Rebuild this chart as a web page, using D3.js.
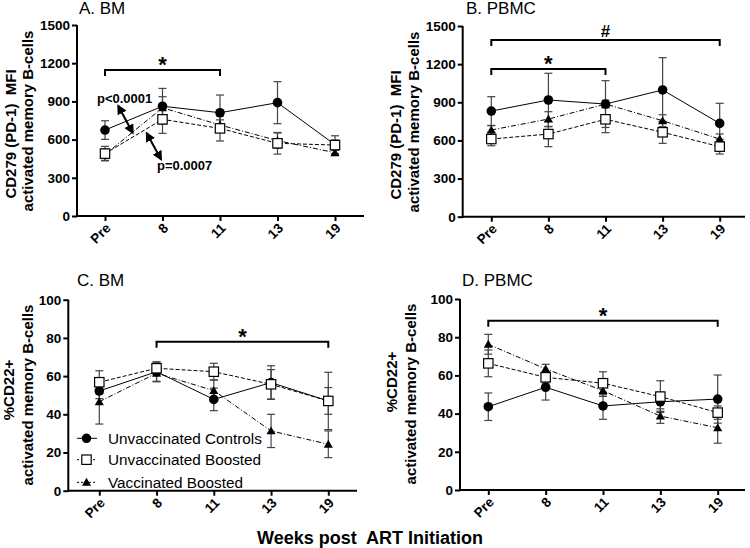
<!DOCTYPE html>
<html><head><meta charset="utf-8">
<script src="https://cdn.jsdelivr.net/npm/d3@7"></script>
<style>
body{margin:0;background:#fff;}
svg{display:block;font-family:"Liberation Sans",Arial,sans-serif;}
</style></head>
<body><svg id="c" width="750" height="548"></svg>
<script>
const categories = ["Pre","8","11","13","19"];
const seriesNames = ["Unvaccinated Controls","Unvaccinated Boosted","Vaccinated Boosted"];

const A_controls = [675, 862, 811, 890, 560];
const A_controlsErr = [73, 140, 139, 165, 70];
const A_unvBoosted = [490, 759, 688, 571, 557];
const A_unvBoostedErr = [57, 110, 99, 85, 40];
const A_vacBoosted = [482, 850, 715, 592, 497];
const A_vacBoostedErr = [45, 87, 40, 60, 20];

const B_controls = [831, 918, 886, 997, 734];
const B_controlsErr = [113, 210, 184, 254, 158];
const B_unvBoosted = [611, 650, 766, 664, 551];
const B_unvBoostedErr = [53, 99, 105, 87, 58];
const B_vacBoosted = [682, 768, 886, 755, 611];
const B_vacBoostedErr = [34, 58, 30, 47, 40];

const C_controls = [52.2, 62.3, 47.8, 56.6, 47];
const C_controlsErr = [4, 5, 5.9, 8.8, 15];
const C_unvBoosted = [56.8, 64.1, 62.3, 55.7, 47];
const C_unvBoostedErr = [6, 3.4, 4.4, 7.7, 7];
const C_vacBoosted = [46.6, 61.5, 52.4, 31.3, 24.3];
const C_vacBoostedErr = [11.7, 4.5, 5.6, 8.7, 7];

const D_controls = [43.6, 53.8, 44, 46.2, 47.6];
const D_controlsErr = [7.2, 6.7, 7, 5, 12.6];
const D_unvBoosted = [66.3, 59, 55.9, 48.9, 40.5];
const D_unvBoostedErr = [7, 3, 6, 8.3, 3.5];
const D_vacBoosted = [76.3, 63.4, 52, 38.7, 32.6];
const D_vacBoostedErr = [5.2, 2.4, 3, 3.8, 8.1];

const ticksPD1 = [0, 300, 600, 900, 1200, 1500];
const ticksCD22 = [0, 20, 40, 60, 80, 100];

const titles = ["A. BM", "B. PBMC", "C. BM", "D. PBMC"];
const yLabel1 = ["CD279 (PD-1)  MFI", "CD279 (PD-1)  MFI", "%CD22+", "%CD22+"];
const yLabel2 = "activated memory B-cells";
const xAxisTitle = "Weeks post  ART Initiation";

const panels = [
  {title: titles[0], l1: yLabel1[0], ticks: ticksPD1, max: 1500,
   series: [[A_controls, A_controlsErr],[A_unvBoosted, A_unvBoostedErr],[A_vacBoosted, A_vacBoostedErr]],
   ax: 77, x0: 105, x1: 335, xe: 364, yb: 216, yt: 25,
   tx: 79, ty: 14, l1x: 16, l1y: 134, l2x: 33, l2y: 121,
   brackets: [{from: "Pre", to: "11", y: 70, sym: "*"}]},
  {title: titles[1], l1: yLabel1[1], ticks: ticksPD1, max: 1500,
   series: [[B_controls, B_controlsErr],[B_unvBoosted, B_unvBoostedErr],[B_vacBoosted, B_vacBoostedErr]],
   ax: 462.7, x0: 491.3, x1: 719.7, xe: 745, yb: 216.7, yt: 26,
   tx: 466, ty: 14, l1x: 401, l1y: 135, l2x: 419, l2y: 122,
   brackets: [{from: "Pre", to: "19", y: 40, sym: "#"},{from: "Pre", to: "11", y: 69, sym: "*"}]},
  {title: titles[2], l1: yLabel1[2], ticks: ticksCD22, max: 100,
   series: [[C_controls, C_controlsErr],[C_unvBoosted, C_unvBoostedErr],[C_vacBoosted, C_vacBoostedErr]],
   ax: 68.3, x0: 99.3, x1: 328.3, xe: 357, yb: 490.7, yt: 299.7,
   tx: 77, ty: 286, l1x: 14, l1y: 390, l2x: 33, l2y: 395,
   brackets: [{from: "8", to: "19", y: 341.7, sym: "*"}], legend: true},
  {title: titles[3], l1: yLabel1[3], ticks: ticksCD22, max: 100,
   series: [[D_controls, D_controlsErr],[D_unvBoosted, D_unvBoostedErr],[D_vacBoosted, D_vacBoostedErr]],
   ax: 460, x0: 488.3, x1: 717.7, xe: 745, yb: 490, yt: 299,
   tx: 462, ty: 286, l1x: 397, l1y: 382, l2x: 416, l2y: 394,
   brackets: [{from: "Pre", to: "19", y: 320.7, sym: "*"}]}
];

const dashes = [null, "4,2", "5,2,1,2"];
const svg = d3.select("#c");

function marker(g, type, x, y) {
  if (type === 0) g.append("circle").attr("cx", x).attr("cy", y).attr("r", 4.8).attr("fill", "#000");
  else if (type === 1) g.append("rect").attr("x", x-4.7).attr("y", y-4.7).attr("width", 9.4).attr("height", 9.4)
      .attr("fill", "#fff").attr("stroke", "#000").attr("stroke-width", 1.2);
  else g.append("path").attr("d", d3.symbol(d3.symbolTriangle, 36)()).attr("transform", `translate(${x},${y+0.8})`).attr("fill", "#000");
}

panels.forEach((p, pi) => {
  const g = svg.append("g");
  const x = d3.scalePoint().domain(categories).range([p.x0, p.x1]);
  const y = d3.scaleLinear().domain([0, p.max]).range([p.yb, p.yt]);

  const ya = g.append("g").attr("transform", `translate(${p.ax},0)`)
    .call(d3.axisLeft(y).tickValues(p.ticks).tickFormat(d3.format("d")).tickSize(5).tickPadding(2));
  ya.select(".domain").remove();
  ya.selectAll(".tick line").attr("stroke", "#000").attr("stroke-width", 2);
  ya.selectAll(".tick text").attr("font-size", 13.5).attr("font-weight", "bold").attr("fill", "#000")
    .attr("font-family", "Liberation Sans, Arial, sans-serif");
  g.append("line").attr("x1", p.ax).attr("x2", p.ax).attr("y1", y(0)+1).attr("y2", y(p.max))
    .attr("stroke", "#000").attr("stroke-width", 2);

  const xa = g.append("g").attr("transform", `translate(0,${p.yb})`)
    .call(d3.axisBottom(x).tickSize(5));
  xa.select(".domain").remove();
  xa.selectAll(".tick line").attr("stroke", "#000").attr("stroke-width", 2);
  xa.selectAll(".tick text").attr("font-size", 13.5).attr("font-weight", "bold").attr("fill", "#000")
    .attr("font-family", "Liberation Sans, Arial, sans-serif")
    .attr("text-anchor", "end").attr("dy", null).attr("y", 0)
    .attr("transform", "translate(6,13) rotate(-45)");
  g.append("line").attr("x1", p.ax-1).attr("x2", p.xe).attr("y1", p.yb).attr("y2", p.yb)
    .attr("stroke", "#000").attr("stroke-width", 2);

  g.append("text").attr("x", p.tx).attr("y", p.ty).attr("font-size", 17).attr("fill", "#000").text(p.title);
  g.append("text").attr("transform", `translate(${p.l1x},${p.l1y}) rotate(-90)`).attr("text-anchor", "middle")
    .attr("font-size", 15).attr("font-weight", "bold").attr("xml:space", "preserve").style("white-space", "pre").text(p.l1);
  g.append("text").attr("transform", `translate(${p.l2x},${p.l2y}) rotate(-90)`).attr("text-anchor", "middle")
    .attr("font-size", 15).attr("font-weight", "bold").text(yLabel2);

  p.series.forEach(([vals, errs], si) => {
    vals.forEach((v, i) => {
      const cx = x(categories[i]);
      const yt = y(v + errs[i]), yb = y(v - errs[i]);
      g.append("line").attr("x1", cx).attr("x2", cx).attr("y1", yt).attr("y2", yb).attr("stroke", "#444").attr("stroke-width", 1.2);
      [yt, yb].forEach(yy => g.append("line").attr("x1", cx-4).attr("x2", cx+4).attr("y1", yy).attr("y2", yy)
        .attr("stroke", "#444").attr("stroke-width", 1.2));
    });
  });
  [2, 0, 1].forEach(si => {
    g.append("path").datum(p.series[si][0])
      .attr("d", d3.line().x((d, i) => x(categories[i])).y(d => y(d)))
      .attr("fill", "none").attr("stroke", "#000").attr("stroke-width", 1)
      .attr("stroke-dasharray", dashes[si]);
  });
  [2, 0, 1].forEach(si => {
    p.series[si][0].forEach((v, i) => marker(g, si, x(categories[i]), y(v)));
  });

  p.brackets.forEach(b => {
    const xa0 = x(b.from), xa1 = x(b.to);
    g.append("path").attr("d", `M${xa0},${b.y+6}V${b.y}H${xa1}V${b.y+6}`)
      .attr("fill", "none").attr("stroke", "#000").attr("stroke-width", 2);
    g.append("text").attr("x", (xa0+xa1)/2).attr("y", b.sym === "*" ? b.y + 2 : b.y - 3)
      .attr("text-anchor", "middle").attr("font-size", b.sym === "*" ? 22 : 17).attr("font-weight", "bold").text(b.sym);
  });

  if (p.legend) {
    const ly = [438.3, 459.7, 482.3];
    seriesNames.forEach((n, si) => {
      g.append("line").attr("x1", 77).attr("x2", 97).attr("y1", ly[si]).attr("y2", ly[si])
        .attr("stroke", "#000").attr("stroke-width", 1).attr("stroke-dasharray", dashes[si] ? "2,2" : null);
      marker(g, si, 86.5, ly[si]);
      g.append("text").attr("x", 108).attr("y", ly[si] + 5.5).attr("font-size", 15.3).attr("fill", "#000").text(n);
    });
  }
});

const gA = svg.append("g");
svg.append("defs").append("marker").attr("id", "ah").attr("viewBox", "0 0 10 10").attr("refX", 8).attr("refY", 5)
  .attr("markerWidth", 5).attr("markerHeight", 5).attr("orient", "auto-start-reverse")
  .append("path").attr("d", "M0,0L10,5L0,10z").attr("fill", "#000");
gA.append("text").attr("x", 97).attr("y", 103).attr("font-size", 13).attr("font-weight", "bold").text("p<0.0001");
gA.append("text").attr("x", 157).attr("y", 170).attr("font-size", 13).attr("font-weight", "bold").text("p=0.0007");
[[118.3, 106, 132.7, 132.7], [146.7, 133.3, 161, 159.3]].forEach(a => {
  gA.append("line").attr("x1", a[0]).attr("y1", a[1]).attr("x2", a[2]).attr("y2", a[3])
    .attr("stroke", "#000").attr("stroke-width", 2)
    .attr("marker-start", "url(#ah)").attr("marker-end", "url(#ah)");
});

svg.append("text").attr("x", 370).attr("y", 544).attr("text-anchor", "middle")
  .attr("font-size", 18).attr("font-weight", "bold").attr("xml:space", "preserve").style("white-space", "pre").text(xAxisTitle);
</script></body></html>
